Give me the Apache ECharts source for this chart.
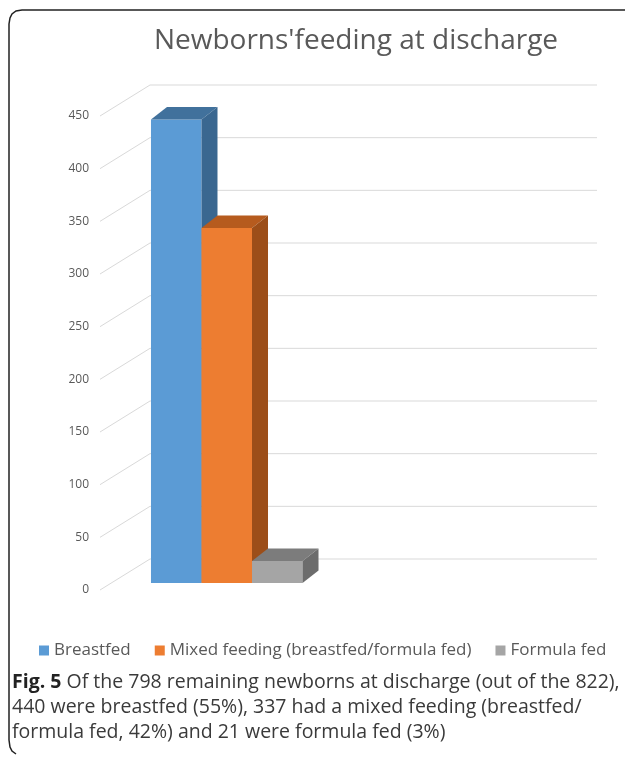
<!DOCTYPE html>
<html>
<head>
<meta charset="utf-8">
<script src="https://cdn.jsdelivr.net/npm/echarts@6/dist/echarts.min.js"></script>
<style>
  html, body { margin: 0; padding: 0; background: #fff; }
  #chart { width: 625px; height: 757px; }
</style>
</head>
<body>
<div id="chart"></div>
<script>
// data
var seriesNames = ['Breastfed', 'Mixed feeding (breastfed/formula fed)', 'Formula fed'];
var seriesValues = [440, 337, 21];
var categories = ['Newborns', ''];
var yTicks = [0, 50, 100, 150, 200, 250, 300, 350, 400, 450];

// front, top, side colours of each 3d column
var faceColors = [
    ['#5b9bd5', '#41719c', '#3a6790'],
    ['#ed7d31', '#b65b1e', '#9c4e19'],
    ['#a5a5a5', '#7c7c7c', '#6c6c6c']
];

var WALL_DX = 50, WALL_DY = -31;   // depth of the back wall
var BAR_DX = 16, BAR_DY = -12.5;   // depth of one column
var BAR_SHIFT_X = 15, BAR_SHIFT_Y = -7; // columns sit a bit behind the front plane

var chart = echarts.init(document.getElementById('chart'));

function poly(points, color) {
    return { type: 'polygon', shape: { points: points }, style: { fill: color } };
}

// back wall grid lines: diagonal on the left wall then horizontal on the back wall
function renderGrid(params, api) {
    var v = api.value(1);
    var cs = params.coordSys;
    var y = api.coord([0, v])[1];
    return {
        type: 'polyline',
        shape: { points: [[cs.x, y], [cs.x + WALL_DX, y + WALL_DY], [cs.x + cs.width + WALL_DX, y + WALL_DY]] },
        style: { stroke: '#d9d9d9', lineWidth: 1, fill: null },
        silent: true
    };
}

function makeBarRender(idx) {
    return function (params, api) {
        var top = api.coord([0, api.value(1)]);
        var base = api.coord([0, 0]);
        var bw = api.size([1, 0])[0] * 0.226;
        var x0 = top[0] - 1.5 * bw + idx * bw + BAR_SHIFT_X;
        var x1 = x0 + bw;
        var yt = top[1] + BAR_SHIFT_Y;
        var yb = base[1] + BAR_SHIFT_Y;
        var c = faceColors[idx];
        return {
            type: 'group',
            children: [
                poly([[x0, yt], [x1, yt], [x1, yb], [x0, yb]], c[0]),
                poly([[x0, yt], [x0 + BAR_DX, yt + BAR_DY], [x1 + BAR_DX, yt + BAR_DY], [x1, yt]], c[1]),
                poly([[x1, yt], [x1 + BAR_DX, yt + BAR_DY], [x1 + BAR_DX, yb + BAR_DY], [x1, yb]], c[2])
            ]
        };
    };
}

var series = [{
    type: 'custom',
    name: 'grid',
    renderItem: renderGrid,
    data: yTicks.map(function (v) { return [0, v]; }),
    z: 1,
    silent: true,
    tooltip: { show: false }
}];
seriesNames.forEach(function (name, i) {
    series.push({
        type: 'custom',
        name: name,
        renderItem: makeBarRender(i),
        itemStyle: { color: faceColors[i][0] },
        data: [[0, seriesValues[i]]],
        z: 2
    });
});

var option = {
    backgroundColor: '#fff',
    animation: false,
    title: {
        text: "Newborns'feeding at discharge",
        left: 351,
        top: 22,
        textAlign: 'center',
        textStyle: { fontFamily: 'Open Sans', fontSize: 28, fontWeight: 'normal', color: '#595959' }
    },
    legend: {
        data: seriesNames,
        left: 34,
        top: 637,
        icon: 'rect',
        itemWidth: 10,
        itemHeight: 10,
        itemGap: 24,
        textStyle: { fontFamily: 'Open Sans', fontSize: 17, color: '#595959' }
    },
    grid: { left: 100, right: 78, top: 116, bottom: 167 },
    xAxis: {
        type: 'category',
        data: categories,
        show: false
    },
    yAxis: {
        type: 'value',
        min: 0,
        max: 450,
        interval: 50,
        axisLine: { show: false },
        axisTick: { show: false },
        splitLine: { show: false },
        axisLabel: { margin: 11, fontFamily: 'Open Sans', fontSize: 12, color: '#595959' }
    },
    series: series,
    graphic: [
        {
            type: 'polyline',
            shape: { points: [[630, 10], [22, 10], [16, 11], [12, 14], [10, 18], [9, 24], [9, 740], [10, 747], [12, 751], [16, 754]] },
            style: { stroke: '#222', lineWidth: 1.5, fill: null }
        },
        {
            type: 'text',
            left: 12,
            top: 670,
            style: {
                text: '{b|Fig. 5} Of the 798 remaining newborns at discharge (out of the 822),\n440 were breastfed (55%), 337 had a mixed feeding (breastfed/\nformula fed, 42%) and 21 were formula fed (3%)',
                fontFamily: 'Open Sans',
                fontSize: 19.5,
                lineHeight: 25,
                fill: '#3a3a3a',
                rich: {
                    b: { fontFamily: 'Open Sans', fontSize: 19.5, lineHeight: 25, fontWeight: 'bold', fill: '#222' }
                }
            }
        }
    ]
};

chart.setOption(option);
</script>
</body>
</html>
